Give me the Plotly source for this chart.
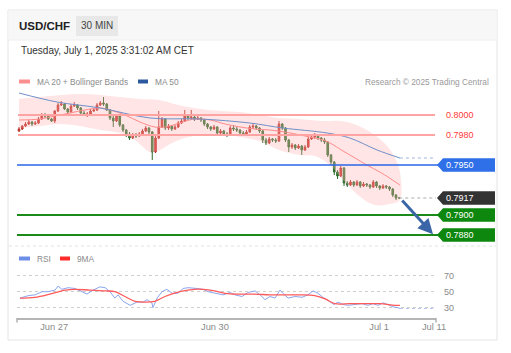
import plotly.graph_objects as go

# ---------------- DATA ----------------
opens = [0.7984,0.7986,0.7989,0.7991,0.7993,0.7991,0.7992,0.7996,0.8000,0.7999,
         0.7996,0.7994,0.8004,0.8010,0.8011,0.8006,0.8003,0.8009,0.8010,0.8007,
         0.8002,0.8000,0.8001,0.8004,0.8005,0.8010,0.8012,0.8011,0.8005,0.7997,
         0.7994,0.7999,0.7990,0.7985,0.7981,0.7977,0.7980,0.7979,0.7981,0.7984,
         0.7987,0.7983,0.7963,0.7977,0.7988,0.7996,0.7987,0.7989,0.7986,0.7988,
         0.7992,0.7994,0.7999,0.7997,0.7998,0.7996,0.7997,0.7995,0.7991,0.7988,
         0.7986,0.7988,0.7982,0.7984,0.7981,0.7980,0.7987,0.7986,0.7985,0.7982,
         0.7981,0.7983,0.7988,0.7989,0.7987,0.7984,0.7975,0.7972,0.7976,0.7975,
         0.7974,0.7991,0.7987,0.7975,0.7968,0.7970,0.7967,0.7969,0.7965,0.7968,
         0.7976,0.7978,0.7979,0.7977,0.7975,0.7973,0.7960,0.7953,0.7943,0.7939,
         0.7947,0.7932,0.7930,0.7933,0.7930,0.7933,0.7929,0.7931,0.7930,0.7928,
         0.7933,0.7929,0.7927,0.7929,0.7928,0.7926,0.7920,0.7917]
closes = [0.7986,0.7989,0.7991,0.7993,0.7991,0.7992,0.7996,0.8000,0.7999,0.7996,
          0.7994,0.8004,0.8010,0.8011,0.8006,0.8003,0.8009,0.8010,0.8007,0.8002,
          0.8000,0.8001,0.8004,0.8005,0.8010,0.8012,0.8011,0.8005,0.7997,0.7994,
          0.7999,0.7990,0.7985,0.7981,0.7977,0.7980,0.7979,0.7981,0.7984,0.7987,
          0.7983,0.7963,0.7977,0.7988,0.7996,0.7987,0.7989,0.7986,0.7988,0.7992,
          0.7994,0.7999,0.7997,0.7998,0.7996,0.7997,0.7995,0.7991,0.7988,0.7986,
          0.7988,0.7982,0.7984,0.7981,0.7980,0.7987,0.7986,0.7985,0.7982,0.7981,
          0.7983,0.7988,0.7989,0.7987,0.7984,0.7975,0.7972,0.7976,0.7975,0.7974,
          0.7991,0.7987,0.7975,0.7968,0.7970,0.7967,0.7969,0.7965,0.7968,0.7976,
          0.7978,0.7979,0.7977,0.7975,0.7973,0.7960,0.7953,0.7943,0.7939,0.7947,
          0.7932,0.7930,0.7933,0.7930,0.7933,0.7929,0.7931,0.7930,0.7928,0.7933,
          0.7929,0.7927,0.7929,0.7928,0.7926,0.7920,0.7917,0.7917]
highs = [0.7988,0.7990,0.7993,0.7995,0.7994,0.7994,0.7998,0.8002,0.8002,0.8001,
         0.7997,0.8005,0.8012,0.8014,0.8012,0.8007,0.8011,0.8013,0.8011,0.8008,
         0.8004,0.8003,0.8006,0.8007,0.8012,0.8014,0.8018,0.8012,0.8006,0.7999,
         0.8001,0.8000,0.7991,0.7986,0.7983,0.7982,0.7982,0.7983,0.7986,0.7989,
         0.7988,0.7984,0.7979,0.8004,0.7998,0.7997,0.7991,0.7990,0.7990,0.7994,
         0.7996,0.8005,0.8001,0.8005,0.8000,0.7999,0.7998,0.7996,0.7992,0.7989,
         0.7990,0.7989,0.7986,0.7985,0.7983,0.7989,0.7990,0.7988,0.7986,0.7984,
         0.7985,0.7990,0.7991,0.7990,0.7988,0.7985,0.7977,0.7978,0.7977,0.7977,
         0.7994,0.7992,0.7988,0.7976,0.7972,0.7971,0.7971,0.7970,0.7970,0.7978,
         0.7980,0.7982,0.7981,0.7978,0.7977,0.7974,0.7961,0.7954,0.7945,0.7949,
         0.7948,0.7934,0.7935,0.7934,0.7935,0.7934,0.7933,0.7932,0.7931,0.7935,
         0.7934,0.7930,0.7931,0.7930,0.7929,0.7927,0.7921,0.7918]
lows = [0.7983,0.7985,0.7988,0.7990,0.7989,0.7990,0.7991,0.7995,0.7997,0.7995,
        0.7993,0.7992,0.8003,0.8009,0.8005,0.8001,0.8002,0.8008,0.8005,0.8001,
        0.7999,0.7998,0.8000,0.8003,0.8004,0.8009,0.8009,0.8004,0.7995,0.7988,
        0.7993,0.7988,0.7983,0.7978,0.7975,0.7976,0.7977,0.7978,0.7980,0.7983,
        0.7981,0.7955,0.7962,0.7976,0.7987,0.7985,0.7985,0.7984,0.7985,0.7987,
        0.7991,0.7993,0.7995,0.7996,0.7994,0.7995,0.7993,0.7989,0.7986,0.7984,
        0.7985,0.7980,0.7981,0.7979,0.7978,0.7979,0.7984,0.7983,0.7980,0.7979,
        0.7980,0.7982,0.7986,0.7985,0.7982,0.7972,0.7970,0.7971,0.7973,0.7972,
        0.7973,0.7985,0.7973,0.7963,0.7966,0.7965,0.7966,0.7960,0.7964,0.7967,
        0.7975,0.7976,0.7975,0.7973,0.7971,0.7958,0.7950,0.7940,0.7936,0.7938,
        0.7929,0.7928,0.7929,0.7928,0.7929,0.7927,0.7928,0.7928,0.7926,0.7927,
        0.7927,0.7925,0.7926,0.7926,0.7924,0.7918,0.7915,0.7916]

# Bollinger bands / MAs (candle index -> value)
bb_up_x = [0, 6, 13, 19, 25, 31, 37, 43, 49, 56, 62, 68, 74, 80, 86, 93, 99, 103, 108, 113, 116, 117.2]
bb_up_y = [0.8016,0.8018,0.8020,0.8021,0.8020,0.8018,0.8016,0.8015,0.8010,0.8006,0.8004,
           0.8003,0.8000,0.7997,0.7996,0.7994,0.7994,0.7991,0.7983,0.7970,0.7955,0.7943]
bb_lo_x = [0, 6.5, 12.6, 18.8, 25, 31, 35.7, 40.3, 43.4, 46.5, 51, 55.7, 62, 68, 74, 80, 86.5, 91,
           95.7, 100.3, 105, 109.5, 114, 117.2]
bb_lo_y = [0.7987,0.7989,0.7991,0.7989,0.7985,0.7982,0.7975,0.7963,0.7965,0.7971,0.7977,0.7980,
           0.7981,0.7978,0.7974,0.7965,0.7960,0.7959,0.7950,0.7933,0.7918,0.7910,0.7911,0.7915]
ma20_x = [0, 6.5, 11, 15.7, 20.3, 25, 28, 32.6, 37.2, 41.8, 45, 49.5, 54, 58.8, 63.4, 68, 72.6,
          77.2, 81.8, 86.5, 89.5, 92.6, 95.7, 99.7, 103.4, 107, 111, 114, 117.2]
ma20_y = [0.7995,0.7996,0.7999,0.8002,0.8005,0.8007,0.8005,0.8000,0.7993,0.7988,0.7988,0.7992,
          0.7996,0.7995,0.7991,0.7988,0.7986,0.7985,0.7983,0.7980,0.7978,0.7976,0.7972,0.7964,
          0.7957,0.7950,0.7943,0.7937,0.7930]
ma50_x = [0, 11.7, 25, 40.3, 55.7, 71, 81.2, 94.8, 101.8, 110.2, 117.2]
ma50_y = [0.8022,0.8013,0.8007,0.7997,0.7996,0.7992,0.7987,0.7982,0.7977,0.7965,0.7957]

rsi_x = [0.3,2.8,4.9,7.1,8.9,11.1,12,13.2,15.1,17.2,19.4,20.9,22.8,24.9,26.5,28,29.5,30.5,32,34.2,
         36.3,38.2,39.4,40.9,41.2,42.5,44,45.5,47.1,48.9,50.5,52,54.8,56.6,58.2,60.3,62.8,64.9,66.5,
         68.6,70.5,72.6,74.2,75.7,77.2,78.8,80.3,81.2,82.8,84.9,87.1,88.9,90.5,92,93.5,95.1,96.9,
         98.2,99.7,101.2,103.4,105.5,107.4,108.9,110.5,112,113.5,115.1,116.6,117.2]
rsi_y = [42,45,46,50,50,52,57,53,55,54,50,47,52,56,55,50,42,46,38,33,
         37,37,40,36,30,42,50,53,48,48,54,55,54,53,50,48,46,49,46,
         44,49,51,46,40,44,42,52,48,42,44,43,46,51,48,43,39,34,
         37,34,33,34,35,33,35,33,36,34,31,30,29]
ma9_x = [0.3,4.9,9.5,14.2,17.2,21.8,26.5,29.5,32.6,35.7,38.8,41.8,44.9,49.5,54,58.8,63.4,68,72.6,
         77.2,81.8,86.5,91,94.2,97.2,101.8,106.5,111,115.7,117.2]
ma9_y = [42,43,47,52,53,52,51,50,44,38,37,38,44,50,53,52,48,47,47,46,46,46,45,41,35,35,35,35,33,33]

levels_res = [0.8000, 0.7980]
level_pivot = 0.7950
level_sup = [0.7900, 0.7880]
target = 0.7880

tick_pos = [10.8, 60.3, 110.8, 127.7]
tick_text = ["Jun 27", "Jun 30", "Jul 1", "Jul 11"]

# ---------------- LAYOUT HELPERS ----------------
W, H = 511, 353
def px(x): return x / W
def py(y): return 1 - y / H
def idx(x): return (x - 19) / 3.25

FONT = "Liberation Sans, Arial, sans-serif"
n = len(closes)
xs = list(range(n))
last_x = xs[-1]
last_c = closes[-1]
x_end = idx(436)

fig = go.Figure()

# Bollinger band fill
fig.add_trace(go.Scatter(x=bb_up_x + bb_lo_x[::-1], y=bb_up_y + bb_lo_y[::-1], fill="toself",
                         fillcolor="rgba(255,175,175,0.33)", line=dict(width=0, shape="spline"),
                         mode="lines", hoverinfo="skip", yaxis="y"))
fig.add_trace(go.Scatter(x=ma20_x, y=ma20_y, mode="lines", line=dict(color="#ff8a8a", width=1, shape="spline"),
                         hoverinfo="skip", yaxis="y"))
fig.add_trace(go.Scatter(x=ma50_x, y=ma50_y, mode="lines", line=dict(color="#6f8fc8", width=1, shape="spline"),
                         hoverinfo="skip", yaxis="y"))
fig.add_trace(go.Scatter(x=[ma50_x[-1], x_end - 0.3], y=[ma50_y[-1], ma50_y[-1]], mode="lines",
                         line=dict(color="#9fb4dc", width=1, dash="dot"), hoverinfo="skip", yaxis="y"))
fig.add_trace(go.Scatter(x=[last_x, idx(437)], y=[last_c, last_c], mode="lines",
                         line=dict(color="#aaaaaa", width=1, dash="dot"), hoverinfo="skip", yaxis="y"))

fig.add_trace(go.Candlestick(x=xs, open=opens, high=highs, low=lows, close=closes,
                             increasing=dict(line=dict(color="#b83228", width=1), fillcolor="#e02a2a"),
                             decreasing=dict(line=dict(color="#2d6a2d", width=1), fillcolor="#2f8a2f"),
                             whiskerwidth=0, hoverinfo="skip", yaxis="y"))

# RSI
fig.add_trace(go.Scatter(x=rsi_x, y=rsi_y, mode="lines", line=dict(color="#8aa6f0", width=1),
                         hoverinfo="skip", yaxis="y2", xaxis="x"))
fig.add_trace(go.Scatter(x=[rsi_x[-1], x_end - 0.3], y=[rsi_y[-1], rsi_y[-1]], mode="lines",
                         line=dict(color="#b5c6f2", width=1, dash="dot"), hoverinfo="skip", yaxis="y2"))
fig.add_trace(go.Scatter(x=ma9_x, y=ma9_y, mode="lines", line=dict(color="#ff5a5a", width=1.3, shape="spline"),
                         hoverinfo="skip", yaxis="y2"))

shapes = []
# card and header
shapes.append(dict(type="rect", xref="paper", yref="paper", x0=px(8), x1=px(497), y0=py(340), y1=py(10),
                   line=dict(color="#e4e4e4", width=1), fillcolor="white", layer="below"))
shapes.append(dict(type="rect", xref="paper", yref="paper", x0=px(8.5), x1=px(496.5), y0=py(40), y1=py(10.5),
                   line=dict(width=0), fillcolor="#f7f7f7", layer="below"))
shapes.append(dict(type="line", xref="paper", yref="paper", x0=px(8), x1=px(497), y0=py(40), y1=py(40),
                   line=dict(color="#eeeeee", width=1), layer="below"))
shapes.append(dict(type="rect", xref="paper", yref="paper", x0=px(76), x1=px(118), y0=py(36), y1=py(16),
                   line=dict(width=0), fillcolor="#e8e8e8", layer="below"))
# separator
shapes.append(dict(type="line", xref="paper", yref="paper", x0=px(9), x1=px(496), y0=py(246), y1=py(246),
                   line=dict(color="#e2e2e2", width=1, dash="dot"), layer="below"))
# legend swatches
for (x0, x1, yy, col) in [(19, 30, 81.5, "#ff8f8f"), (138, 148, 81.5, "#2c5aa0"),
                          (19, 30, 258.5, "#6c8ee6"), (60, 70, 258.5, "#ff2a2a")]:
    shapes.append(dict(type="rect", xref="paper", yref="paper", x0=px(x0), x1=px(x1),
                       y0=py(yy + 2), y1=py(yy - 2), line=dict(width=0), fillcolor=col))
# level lines
for lv in levels_res:
    shapes.append(dict(type="line", xref="paper", yref="y", x0=px(18), x1=px(435), y0=lv, y1=lv,
                       line=dict(color="#ffa3a3", width=2)))
shapes.append(dict(type="line", xref="paper", yref="y", x0=px(17), x1=px(438), y0=level_pivot, y1=level_pivot,
                   line=dict(color="#2a64e6", width=1.5)))
for lv in level_sup:
    shapes.append(dict(type="line", xref="paper", yref="y", x0=px(17), x1=px(438), y0=lv, y1=lv,
                       line=dict(color="#1a8a1a", width=2)))

# badges
def badge(level, color):
    h = 0.00068
    path = (f"M {px(437)},{level} L {px(443)},{level + h} L {px(495)},{level + h} "
            f"L {px(495)},{level - h} L {px(443)},{level - h} Z")
    shapes.append(dict(type="path", xref="paper", yref="y", path=path, fillcolor=color, line=dict(width=0)))

badge(level_pivot, "#2f6fe8")
badge(last_c, "#333333")
for lv in level_sup:
    badge(lv, "#0d870d")

# x-axis end ticks
for xx in (17, 436):
    shapes.append(dict(type="line", xref="paper", yref="paper", x0=px(xx), x1=px(xx), y0=py(318), y1=py(322.5),
                       line=dict(color="#b0b0b0", width=1.5)))

ann = []
def text(x, y, s, size, color, anchor="left", bold=False):
    ann.append(dict(xref="paper", yref="paper", x=px(x), y=py(y), text=f"<b>{s}</b>" if bold else s,
                    showarrow=False, xanchor=anchor, yanchor="middle",
                    font=dict(family=FONT, size=size, color=color)))

text(17, 26, "USD/CHF", 11.5, "#222222", bold=True)
text(97, 26, "30 MIN", 10, "#444444", anchor="center")
text(19, 50, "Tuesday, July 1, 2025 3:31:02 AM CET", 10, "#333333")
text(35, 81.5, "MA 20 + Bollinger Bands", 8.3, "#8a8a8a")
text(153, 81.5, "MA 50", 8.3, "#8a8a8a")
text(491, 81.5, "Research © 2025 Trading Central", 8.3, "#9a9a9a", anchor="right")
text(35, 258.5, "RSI", 8.3, "#8a8a8a")
text(75, 258.5, "9MA", 8.3, "#8a8a8a")

for lv in levels_res:
    ann.append(dict(xref="paper", yref="y", x=px(444), y=lv, text=f"{lv:.4f}", showarrow=False,
                    xanchor="left", yanchor="middle", font=dict(family=FONT, size=9, color="#ff3b3b")))
for lv in [level_pivot, last_c] + level_sup:
    ann.append(dict(xref="paper", yref="y", x=px(444), y=lv, text=f"{lv:.4f}", showarrow=False,
                    xanchor="left", yanchor="middle", font=dict(family=FONT, size=9, color="white")))

# forecast arrow
ann.append(dict(x=idx(433), y=target + 0.00008, xref="x", yref="y", ax=last_x + 0.5, ay=last_c - 0.0001,
                axref="x", ayref="y", text="", showarrow=True, arrowhead=2, arrowsize=1,
                arrowwidth=3, arrowcolor="#3a66a8"))

fig.update_layout(
    width=W, height=H, margin=dict(l=0, r=0, t=0, b=0, autoexpand=False),
    paper_bgcolor="white", plot_bgcolor="rgba(0,0,0,0)",
    showlegend=False, hovermode=False,
    shapes=shapes, annotations=ann,
    xaxis=dict(domain=[px(17), px(436)], range=[idx(17), x_end], anchor="y2", automargin=False,
               showline=True, linecolor="#b5b5b5", linewidth=1.5, showgrid=False, zeroline=False,
               tickvals=tick_pos, ticktext=tick_text, ticks="",
               tickfont=dict(family=FONT, size=9.3, color="#8a8a8a"),
               rangeslider=dict(visible=False), fixedrange=True),
    yaxis=dict(domain=[py(250), py(88)], range=[0.7865, 0.8027], visible=False, fixedrange=True,
               automargin=False),
    yaxis2=dict(domain=[py(317.5), py(262)], range=[17.75, 87.1], side="right", anchor="x", automargin=False,
                tickvals=[30, 50, 70], showgrid=True, gridcolor="#cfcfcf", griddash="dot", gridwidth=1,
                zeroline=False, showline=False, ticks="", ticklabelstandoff=7,
                tickfont=dict(family=FONT, size=9, color="#8a8a8a"), fixedrange=True),
)

fig.write_html("out.html")
